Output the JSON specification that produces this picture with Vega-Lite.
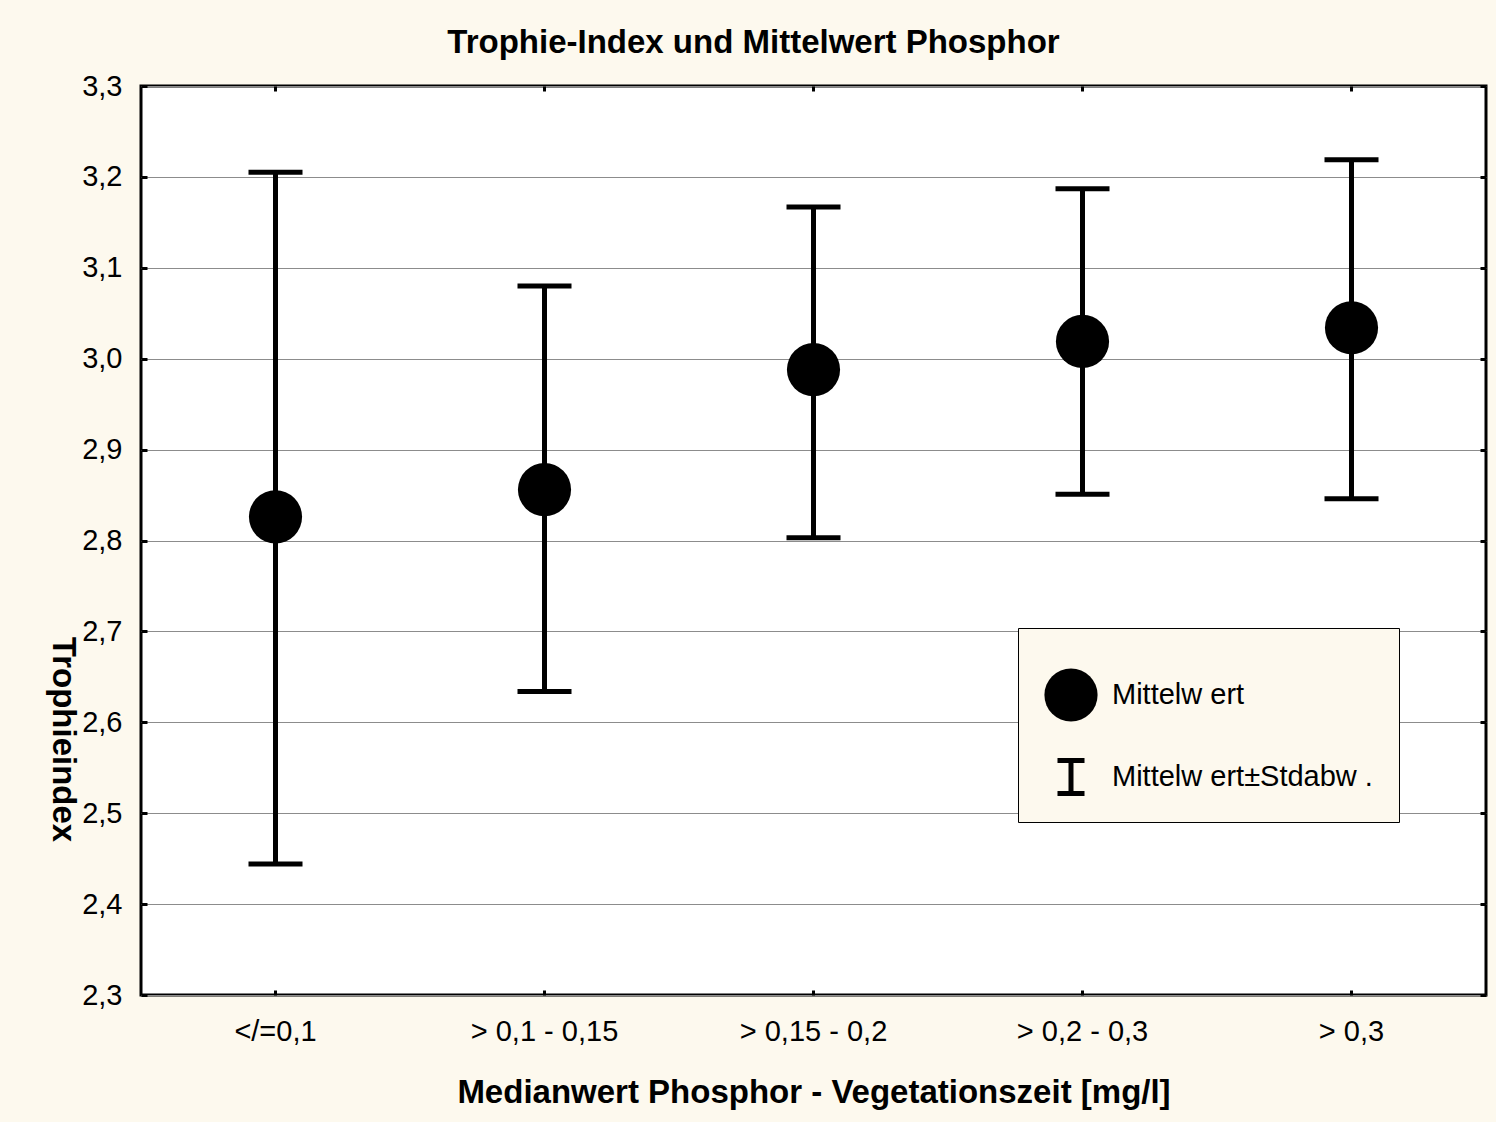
{
  "$schema": "https://vega.github.io/schema/vega-lite/v6.json",
  "autosize": {"type": "none"},
  "padding": {"left": 141, "top": 86, "right": 10, "bottom": 127},
  "width": 1345,
  "height": 909,
  "background": "#fdf9ee",
  "title": {
    "text": "Trophie-Index und Mittelwert Phosphor",
    "font": "Liberation Sans",
    "fontSize": 33,
    "fontWeight": "bold",
    "color": "black",
    "anchor": "middle",
    "dx": -60,
    "dy": 47,
    "baseline": "alphabetic",
    "offset": 33
  },
  "config": {
    "view": {"fill": "white", "stroke": "black", "strokeWidth": 3},
    "axis": {
      "labelFont": "Liberation Sans",
      "labelFontSize": 29,
      "labelColor": "black",
      "titleFont": "Liberation Sans",
      "titleFontSize": 33,
      "titleFontWeight": "bold",
      "titleColor": "black",
      "tickColor": "black",
      "tickWidth": 3,
      "domain": false
    }
  },
  "data": {
    "values": [
      {"kat": "</=0,1", "typ": "Mittelw ert", "mittel": 2.826, "unten": 2.444, "oben": 3.205},
      {"kat": "> 0,1 - 0,15", "typ": "Mittelw ert", "mittel": 2.856, "unten": 2.634, "oben": 3.080},
      {"kat": "> 0,15 - 0,2", "typ": "Mittelw ert", "mittel": 2.988, "unten": 2.803, "oben": 3.167},
      {"kat": "> 0,2 - 0,3", "typ": "Mittelw ert", "mittel": 3.019, "unten": 2.851, "oben": 3.187},
      {"kat": "> 0,3", "typ": "Mittelw ert", "mittel": 3.034, "unten": 2.846, "oben": 3.219}
    ]
  },
  "resolve": {"axis": {"x": "independent", "y": "independent"}},
  "layer": [
    {
      "mark": {"type": "rule", "color": "black", "strokeWidth": 5},
      "encoding": {
        "x": {
          "field": "kat", "type": "nominal", "sort": null,
          "scale": {"type": "band", "paddingInner": 0, "paddingOuter": 0},
          "axis": {
            "orient": "bottom",
            "title": "Medianwert Phosphor - Vegetationszeit [mg/l]",
            "labelAngle": 0,
            "tickSize": -5,
            "labelPadding": 27,
            "labelBaseline": "top",
            "titleY": 107,
            "titleBaseline": "alphabetic",
            "grid": false
          }
        },
        "y": {
          "field": "unten", "type": "quantitative",
          "scale": {"domain": [2.3, 3.3], "nice": false, "zero": false},
          "axis": {
            "orient": "left",
            "title": "Trophieindex",
            "values": [2.3, 2.4, 2.5, 2.6, 2.7, 2.8, 2.9, 3.0, 3.1, 3.2, 3.3],
            "labelExpr": "replace(format(datum.value, '.1f'), '.', ',')",
            "tickSize": -6,
            "labelPadding": 25,
            "grid": true,
            "gridColor": "#8c8c8c",
            "gridWidth": 1,
            "titleAngle": 90,
            "titleX": -79,
            "titleY": 653,
            "titleAlign": "center",
            "titleBaseline": "middle"
          }
        },
        "y2": {"field": "oben"}
      }
    },
    {
      "mark": {"type": "tick", "color": "black", "size": 54, "thickness": 5, "opacity": 1},
      "encoding": {
        "x": {
          "field": "kat", "type": "nominal", "sort": null,
          "axis": {"orient": "top", "labels": false, "title": null, "tickSize": -5, "grid": false}
        },
        "y": {
          "field": "oben", "type": "quantitative",
          "axis": {
            "orient": "right", "labels": false, "title": null, "tickSize": -6, "grid": false,
            "values": [2.3, 2.4, 2.5, 2.6, 2.7, 2.8, 2.9, 3.0, 3.1, 3.2, 3.3]
          }
        }
      }
    },
    {
      "mark": {"type": "tick", "color": "black", "size": 54, "thickness": 5, "opacity": 1},
      "encoding": {
        "x": {"field": "kat", "type": "nominal", "sort": null, "axis": null},
        "y": {"field": "unten", "type": "quantitative", "axis": null}
      }
    },
    {
      "mark": {"type": "point", "filled": true, "size": 2827, "opacity": 1, "color": "black", "strokeWidth": 0},
      "encoding": {
        "x": {"field": "kat", "type": "nominal", "sort": null, "axis": null},
        "y": {"field": "mittel", "type": "quantitative", "axis": null},
        "shape": {
          "field": "typ", "type": "nominal",
          "scale": {
            "domain": ["Mittelw ert", "Mittelw ert±Stdabw ."],
            "range": ["circle", "M-0.508,-0.714H0.508V-0.526H0.094V0.526H0.508V0.714H-0.508V0.526H-0.094V-0.526H-0.508Z"]
          },
          "legend": {
            "title": " ",
            "titleFontSize": 10,
            "titlePadding": 4,
            "orient": "none",
            "legendX": 877,
            "legendY": 542,
            "padding": 26,
            "fillColor": "#fdf9ee",
            "strokeColor": "black",
            "symbolSize": 2827,
            "symbolFillColor": "black",
            "symbolStrokeColor": "black",
            "symbolStrokeWidth": 0,
            "symbolOpacity": 1,
            "labelFont": "Liberation Sans",
            "labelFontSize": 29,
            "labelColor": "black",
            "labelOffset": 14,
            "labelLimit": 400,
            "rowPadding": 28,
            "encode": {"legend": {"enter": {"strokeWidth": {"value": 3}}, "update": {"strokeWidth": {"value": 3}}}}
          }
        }
      }
    }
  ]
}
